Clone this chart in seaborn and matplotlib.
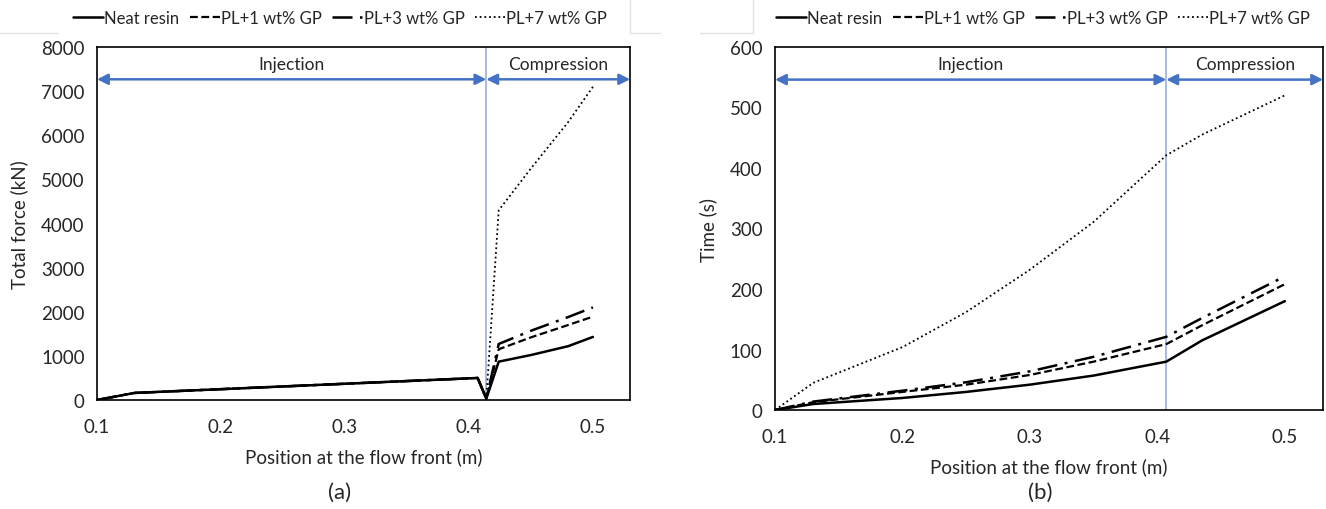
import numpy as np
import pandas as pd
import matplotlib

matplotlib.use("Agg")
import matplotlib.pyplot as plt
from matplotlib.lines import Line2D
import seaborn as sns

sns.set_theme(style="white")
plt.rcParams["font.family"] = ["Lato", "DejaVu Sans"]

# ---- data ------------------------------------------------------------------
series_names = ["Neat resin", "PL+1 wt% GP", "PL+3 wt% GP", "PL+7 wt% GP"]

# (a) total force vs flow-front position
pos_a = [0.1, 0.13, 0.407, 0.414, 0.424, 0.45, 0.48, 0.5]
force_neat = [0, 160, 500, 30, 870, 1020, 1220, 1430]
force_pl1 = [0, 160, 500, 30, 1150, 1420, 1700, 1890]
force_pl3 = [0, 160, 500, 30, 1270, 1570, 1880, 2100]
force_pl7 = [0, 160, 500, 30, 4300, 5250, 6300, 7100]

# (b) time vs flow-front position
pos_b = [0.1, 0.13, 0.2, 0.25, 0.3, 0.35, 0.407, 0.435, 0.5]
time_neat = [0, 10, 20, 30, 42, 57, 80, 115, 180]
time_pl1 = [0, 13, 30, 42, 58, 80, 109, 140, 208]
time_pl3 = [0, 14, 32, 46, 64, 88, 121, 152, 221]
time_pl7 = [0, 45, 104, 162, 232, 311, 421, 455, 520]

switch_a = 0.414   # injection -> compression
switch_b = 0.407

styles = ["-", (0, (3.5, 1.6)), (0, (8, 3, 1.2, 3)), (0, (1, 1.6))]
widths = [1.8, 1.6, 1.8, 1.3]
ARROW = "#4472C4"
VLINE = "#8FAADC"


def panel(ax, x, ys, ymax, yticks, ylabel, switch, arrow_y, text_y, xpad):
    for name, y, ls, lw in zip(series_names, ys, styles, widths):
        sns.lineplot(x=x, y=y, ax=ax, color="black", linestyle=ls, linewidth=lw,
                     label=name, sort=False, estimator=None, legend=False)
    ax.axvline(switch, color=VLINE, lw=1.1, zorder=0)
    ax.set_xlim(0.1, 0.53)
    ax.set_ylim(0, ymax)
    ax.set_xticks([0.1, 0.2, 0.3, 0.4, 0.5])
    ax.set_xticklabels(["0.1", "0.2", "0.3", "0.4", "0.5"])
    ax.set_yticks(yticks)
    ax.tick_params(axis="x", length=0, labelsize=13.5, pad=xpad)
    ax.tick_params(axis="y", length=0, labelsize=13.5, pad=9)
    ax.set_xlabel("Position at the flow front (m)", fontsize=13.5, labelpad=9)
    ax.set_ylabel(ylabel, fontsize=13.5, labelpad=9)
    for sp in ax.spines.values():
        sp.set_color("black")
        sp.set_linewidth(1.2)
    arr = dict(arrowstyle="<|-|>", color=ARROW, lw=1.8, mutation_scale=16,
               shrinkA=0, shrinkB=0)
    ax.annotate("", xy=(0.1, arrow_y), xytext=(switch, arrow_y), arrowprops=arr)
    ax.annotate("", xy=(switch, arrow_y), xytext=(0.53, arrow_y), arrowprops=arr)
    ax.text((0.1 + switch) / 2, text_y, "Injection", ha="center", va="center",
            fontsize=12.5)
    ax.text((switch + 0.53) / 2, text_y, "Compression", ha="center",
            va="center", fontsize=12.5)


fig = plt.figure(figsize=(13.26, 5.10), dpi=100)
ax_a = fig.add_axes([0.0732, 0.2137, 0.402, 0.692])
ax_b = fig.add_axes([0.5845, 0.194, 0.4133, 0.712])

panel(ax_a, pos_a, [force_neat, force_pl1, force_pl3, force_pl7], 8000,
      range(0, 8001, 1000), "Total force (kN)", switch_a, 7270, 7620, 13)
panel(ax_b, pos_b, [time_neat, time_pl1, time_pl3, time_pl7], 600,
      range(0, 601, 100), "Time (s)", switch_b, 546, 571, 13)

handles = [Line2D([0], [0], color="black", linestyle=ls, lw=lw)
           for ls, lw in zip(styles, widths)]
for cx in (340 / 1326, 1043 / 1326):
    fig.legend(handles, series_names, loc="center", bbox_to_anchor=(cx, 0.963),
               ncol=4, frameon=False, fontsize=12, handlelength=1.8,
               handletextpad=0.1, columnspacing=0.6)

# faint remnants of the legend boxes
for x0, x1, xv in ((0.0, 58, 630), (700, 753, 753)):
    fig.add_artist(Line2D([x0 / 1326, x1 / 1326], [1 - 34 / 510] * 2,
                          color="#e3e3e3", lw=1))
    fig.add_artist(Line2D([xv / 1326] * 2, [1, 1 - 34 / 510],
                          color="#e3e3e3", lw=1))
fig.add_artist(Line2D([630 / 1326, 660 / 1326], [1 - 34 / 510] * 2,
                      color="#e3e3e3", lw=1))

fig.text(340 / 1326, 1 - 493 / 510, "(a)", ha="center", va="center", fontsize=16)
fig.text(1040 / 1326, 1 - 493 / 510, "(b)", ha="center", va="center", fontsize=16)

fig.savefig("out.png", dpi=100, facecolor="w")
